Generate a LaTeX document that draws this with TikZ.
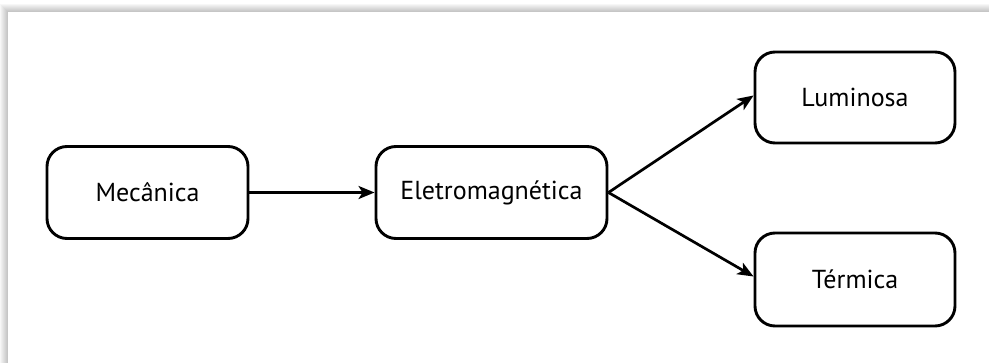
\documentclass[tikz,border=0pt]{standalone}
\usepackage{fontspec}
\setmainfont{PT Sans}
\usetikzlibrary{arrows.meta}
\begin{document}
\begin{tikzpicture}[x=1pt,y=-1pt,
  box/.style={draw=black,line width=2.9pt,rounded corners=20pt,fill=white,
    minimum width=#1,minimum height=92pt,inner sep=0pt,font=\fontsize{26}{31}\selectfont},
  conn/.style={draw=black,line width=2.7pt,-{Stealth[length=16pt,width=13pt,inset=4pt]}}]
\useasboundingbox (0,0) rectangle (989,362);
% page shadow
\foreach \i in {0,...,8}{
  \fill[black,opacity=0.03] (\i,{4+\i}) rectangle (1000,380);
}
\fill[white] (8,12) rectangle (1000,380);
\node[box=201pt] (mec) at (147.5,192.5) {Mecânica};
\node[box=231pt] (ele) at (491.5,192.5) {Eletromagnética};
\node[box=200pt,minimum height=91pt] (lum) at (855,97.5) {Luminosa};
\node[box=200pt,minimum height=93pt] (ter) at (855,279.5) {Térmica};
\draw[conn] (mec.east) -- (ele.west);
\draw[conn] (ele.east) -- ([yshift=2pt]lum.west);
\draw[conn] (ele.east) -- ([yshift=3pt]ter.west);
\end{tikzpicture}
\end{document}
